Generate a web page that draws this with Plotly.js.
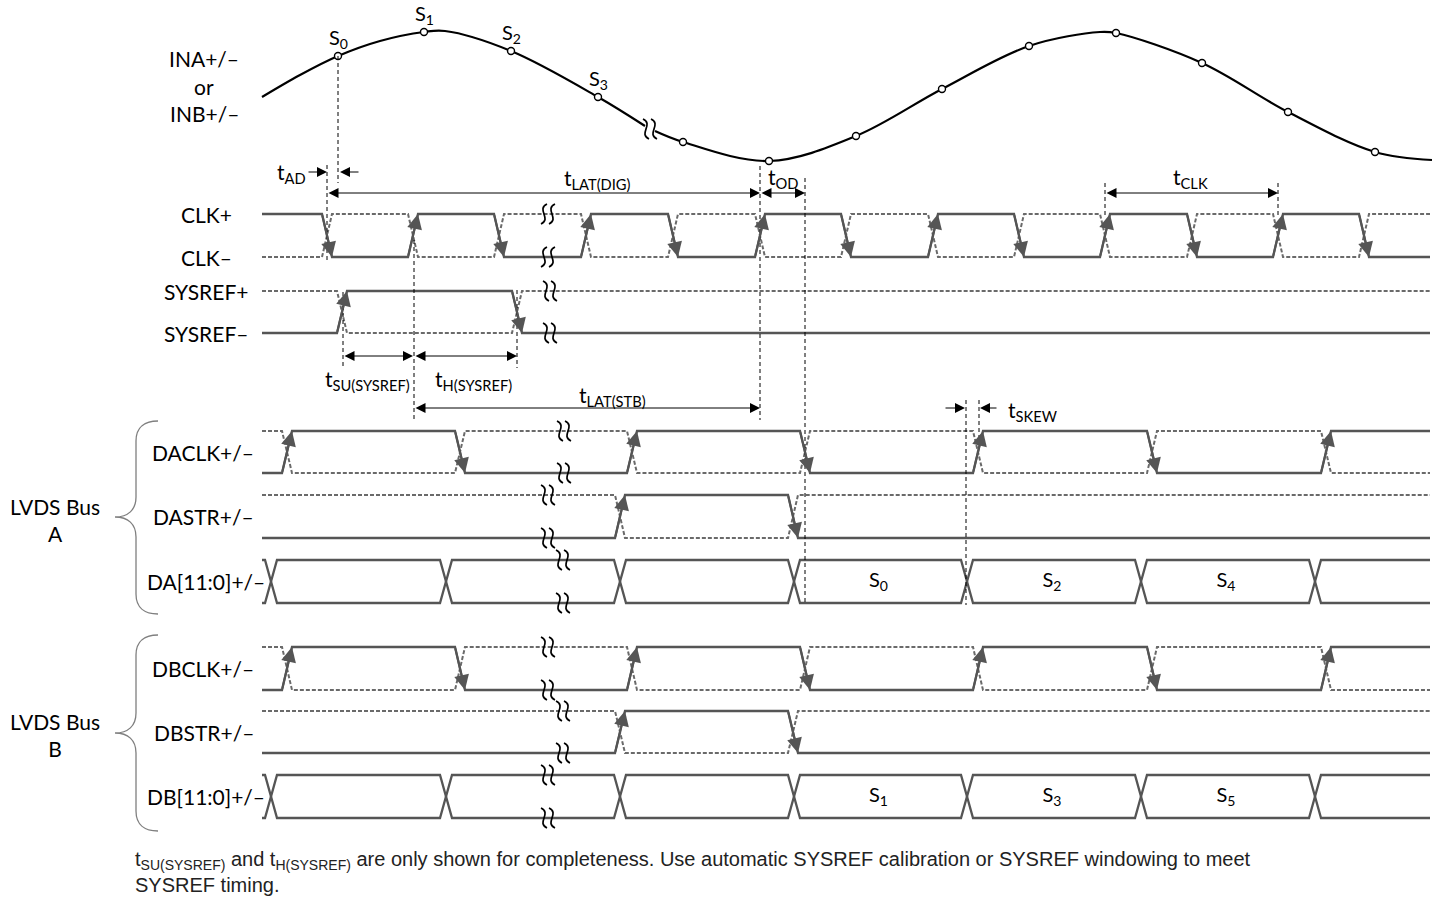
<!DOCTYPE html>
<html><head><meta charset="utf-8">
<script src="https://cdn.plot.ly/plotly-3.0.1.min.js"></script>
<style>html,body{margin:0;padding:0;background:#fff;}#chart{width:1439px;height:906px;}</style>
</head><body><div id="chart"></div>
<script>
// ---------------- data (time axis in drawing units) ----------------
const inputLeftX  = [262, 300, 338, 380, 424, 445, 511, 598, 645];
const inputLeftY  = [97, 75, 56, 41, 32, 31, 51, 97, 126];
const inputRightX = [655, 683, 769, 856, 942, 1029, 1100, 1116, 1202, 1288, 1375, 1432];
const inputRightY = [131, 142, 161, 136, 89, 46, 32, 33, 63, 112, 152, 160];
const sampleX = [338, 424, 511, 598, 683, 769, 856, 942, 1029, 1116, 1202, 1288, 1375];
const sampleY = [56, 32, 51, 97, 142, 161, 136, 89, 46, 33, 63, 112, 152];
const sampleLabels = ['S<sub>0</sub>', 'S<sub>1</sub>', 'S<sub>2</sub>', 'S<sub>3</sub>'];

const clkEdges    = [327, 413, 499, 586, 673, 760, 846, 933, 1019, 1105, 1192, 1278, 1364];
const sysrefEdges = [342, 517];
const daclkEdges  = [287, 460, 632, 805, 978, 1152, 1326];
const dastrEdges  = [620, 793];
const daCross     = [271, 446, 620, 794, 967, 1141, 1315];
const daWords     = ['', '', '', 'S<sub>0</sub>', 'S<sub>2</sub>', 'S<sub>4</sub>', ''];
const dbclkEdges  = [287, 460, 632, 805, 978, 1152, 1326];
const dbstrEdges  = [620, 793];
const dbCross     = [271, 446, 620, 794, 967, 1141, 1315];
const dbWords     = ['', '', '', 'S<sub>1</sub>', 'S<sub>3</sub>', 'S<sub>5</sub>', ''];

const signalNames = ['CLK+', 'CLK–', 'SYSREF+', 'SYSREF–', 'DACLK+/–', 'DASTR+/–', 'DA[11:0]+/–', 'DBCLK+/–', 'DBSTR+/–', 'DB[11:0]+/–'];
const inputNames  = ['INA+/–', 'or', 'INB+/–'];
const busNames    = ['LVDS Bus<br>A', 'LVDS Bus<br>B'];
const noteLines   = [
  't<sub>SU(SYSREF)</sub> and t<sub>H(SYSREF)</sub> are only shown for completeness. Use automatic SYSREF calibration or SYSREF windowing to meet',
  'SYSREF timing.'
];

// ---------------- layout config ----------------
const X0 = 262, X1 = 1430;
const ROW = {
  clk:   {hi: 214, lo: 257, brk: 548, flip: true},
  sys:   {hi: 291, lo: 333, brk: 550},
  daclk: {hi: 431, lo: 473, brk: 564},
  dastr: {hi: 495, lo: 538, brk: 548},
  da:    {hi: 560, lo: 603, brk: 563},
  dbclk: {hi: 647, lo: 690, brk: 548},
  dbstr: {hi: 711, lo: 753, brk: 563},
  db:    {hi: 775, lo: 818, brk: 548}
};
const SOLID = '#555555', DASHC = '#6a6a6a', FONT = 'Lato, "Open Sans", sans-serif';
const traces = [], shapes = [], annotations = [];

function wave(edges, startHigh, r, hw) {
  const xs = [X0], ys = [startHigh ? r.hi : r.lo];
  let high = startHigh;
  for (const e of edges) {
    xs.push(e - hw); ys.push(high ? r.hi : r.lo);
    high = !high;
    xs.push(e + hw); ys.push(high ? r.hi : r.lo);
  }
  xs.push(X1); ys.push(high ? r.hi : r.lo);
  return {xs, ys};
}
function addDiff(edges, startHigh, r, hw) {
  const c = wave(edges, !startHigh, r, hw);
  traces.push({x: c.xs, y: c.ys, mode: 'lines', line: {color: DASHC, width: 2, dash: '4px,2px'}, hoverinfo: 'skip'});
  const s = wave(edges, startHigh, r, hw);
  traces.push({x: s.xs, y: s.ys, mode: 'lines', line: {color: SOLID, width: 2.3}, hoverinfo: 'skip'});
  let high = startHigh;
  for (const e of edges) {
    const y0 = high ? r.hi : r.lo; high = !high; const y1 = high ? r.hi : r.lo;
    annotations.push({x: e + hw, y: y1, ax: e - hw, ay: y0, axref: 'x', ayref: 'y', xref: 'x', yref: 'y',
      showarrow: true, arrowhead: 2, arrowsize: 1.5, arrowwidth: 2, arrowcolor: SOLID, text: '', standoff: 0});
  }
}
function addBus(cross, r, words, hw) {
  for (const startTop of [true, false]) {
    const xs = [X0], ys = [startTop ? r.hi : r.lo];
    let top = startTop;
    for (const c of cross) {
      xs.push(c - hw); ys.push(top ? r.hi : r.lo);
      top = !top;
      xs.push(c + hw); ys.push(top ? r.hi : r.lo);
    }
    xs.push(X1); ys.push(top ? r.hi : r.lo);
    traces.push({x: xs, y: ys, mode: 'lines', line: {color: SOLID, width: 2.3}, hoverinfo: 'skip'});
  }
  const lx = [], ly = [], lt = [];
  words.forEach((w, i) => {
    if (!w) return;
    const xa = cross[i], xb = i + 1 < cross.length ? cross[i + 1] : X1;
    lx.push((xa + xb) / 2 - 2); ly.push((r.hi + r.lo) / 2); lt.push(w);
  });
  traces.push({x: lx, y: ly, text: lt, mode: 'text', textfont: {family: FONT, size: 20, color: '#000'}, hoverinfo: 'skip'});
}
function breakMark(cx, cy, flip) {
  for (const dx of [-4, 4]) {
    const x = cx + dx;
    const p = flip
      ? `M ${x + 3},${cy - 10} C ${x - 8},${cy - 5} ${x + 8},${cy + 5} ${x - 3},${cy + 10}`
      : `M ${x - 3},${cy - 10} C ${x + 8},${cy - 5} ${x - 8},${cy + 5} ${x + 3},${cy + 10}`;
    shapes.push({type: 'path', path: p, xref: 'x', yref: 'y', line: {color: '#000', width: 1.7}, layer: 'above'});
  }
}
function vdash(x, y0, y1) {
  shapes.push({type: 'line', x0: x, x1: x, y0: y0, y1: y1, xref: 'x', yref: 'y', line: {color: '#000', width: 1, dash: '4px,3px'}});
}
function dim(xa, xb, y, both) {
  annotations.push({x: xb, y: y, ax: xa, ay: y, axref: 'x', ayref: 'y', xref: 'x', yref: 'y', text: '', showarrow: true,
    arrowhead: 2, startarrowhead: 2, arrowside: both ? 'end+start' : 'end', arrowsize: 2, startarrowsize: 2,
    arrowwidth: 1, arrowcolor: '#000', standoff: 0, startstandoff: 0});
}
function label(x, y, t, size, anchor) {
  annotations.push({x: x, y: y, xref: 'x', yref: 'y', text: t, showarrow: false, xanchor: anchor || 'center', yanchor: 'middle',
    font: {family: FONT, size: size || 21, color: '#000'}});
}

// ---------------- input signal ----------------
traces.push({x: inputLeftX, y: inputLeftY, mode: 'lines', line: {color: '#000', width: 2.2, shape: 'spline'}, hoverinfo: 'skip'});
traces.push({x: inputRightX, y: inputRightY, mode: 'lines', line: {color: '#000', width: 2.2, shape: 'spline'}, hoverinfo: 'skip'});
breakMark(650, 129, false);
traces.push({x: sampleX, y: sampleY, mode: 'markers', marker: {symbol: 'circle', size: 7, color: '#fff', line: {color: '#000', width: 1.4}}, hoverinfo: 'skip'});
sampleLabels.forEach((t, i) => label(sampleX[i], sampleY[i] - 18, t, 20));

// ---------------- digital signals ----------------
addDiff(clkEdges, true, ROW.clk, 5);
addDiff(sysrefEdges, false, ROW.sys, 5);
addDiff(daclkEdges, false, ROW.daclk, 5);
addDiff(dastrEdges, false, ROW.dastr, 5);
addBus(daCross, ROW.da, daWords, 6);
addDiff(dbclkEdges, false, ROW.dbclk, 5);
addDiff(dbstrEdges, false, ROW.dbstr, 5);
addBus(dbCross, ROW.db, dbWords, 6);

for (const k of Object.keys(ROW)) {
  const r = ROW[k];
  breakMark(r.brk, r.hi, !!r.flip);
  breakMark(r.brk, r.lo, !!r.flip);
}

// ---------------- timing references ----------------
const tCLKa = clkEdges[0], tS0 = sampleX[0], tOut = clkEdges[5], tODe = daclkEdges[3];
vdash(tS0, sampleY[0], 183);
vdash(tCLKa, 165, 263);
vdash(tOut, 166, 420);
vdash(tODe, 178, 605);
vdash(clkEdges[9], 183, 216);
vdash(clkEdges[11], 183, 216);
vdash(clkEdges[1] + 1, 240, 420);
vdash(sysrefEdges[0] + 1, 292, 368);
vdash(sysrefEdges[1], 290, 368);
vdash(daCross[4] - 1, 400, 605);
vdash(daclkEdges[4] + 1, 400, 440);

dim(307, tCLKa, 172, false);
dim(360, tS0 + 2, 172, false);
dim(tCLKa, tOut, 193, true);
dim(tOut, tODe, 193, true);
dim(clkEdges[9], clkEdges[11], 193, true);
dim(sysrefEdges[0] + 1, clkEdges[1], 356, true);
dim(clkEdges[1] + 1, sysrefEdges[1], 356, true);
dim(clkEdges[1] + 1, tOut, 408, true);
dim(944, daCross[4] - 2, 408, false);
dim(998, daclkEdges[4] + 2, 408, false);

label(291, 173, 't<sub>AD</sub>');
label(597, 179, 't<sub>LAT(DIG)</sub>');
label(783, 178, 't<sub>OD</sub>');
label(1190, 178, 't<sub>CLK</sub>');
label(367, 380, 't<sub>SU(SYSREF)</sub>');
label(473, 380, 't<sub>H(SYSREF)</sub>');
label(612, 396, 't<sub>LAT(STB)</sub>');
label(1032, 411, 't<sub>SKEW</sub>');

// ---------------- labels ----------------
const inputY = [58, 86, 113];
inputNames.forEach((t, i) => label(204, inputY[i], t));
const sigY = [ROW.clk.hi, ROW.clk.lo, ROW.sys.hi, ROW.sys.lo,
  (ROW.daclk.hi + ROW.daclk.lo) / 2, (ROW.dastr.hi + ROW.dastr.lo) / 2, (ROW.da.hi + ROW.da.lo) / 2,
  (ROW.dbclk.hi + ROW.dbclk.lo) / 2, (ROW.dbstr.hi + ROW.dbstr.lo) / 2, (ROW.db.hi + ROW.db.lo) / 2];
const sigRight = [0, 0, 0, 0, 256, 256, 267, 256, 256, 267];
signalNames.forEach((t, i) => label(i >= 4 ? sigRight[i] : 206, sigY[i], t, 21, i >= 4 ? 'right' : 'center'));
label(55, 520, busNames[0]);
label(55, 735, busNames[1]);

function brace(top, bot, mid) {
  const p = `M 158,${top} C 145,${top} 136,${top + 6} 136,${top + 20} L 136,${mid - 20} C 136,${mid - 7} 128,${mid} 115,${mid} ` +
            `C 128,${mid} 136,${mid + 7} 136,${mid + 20} L 136,${bot - 20} C 136,${bot - 6} 145,${bot} 158,${bot}`;
  shapes.push({type: 'path', path: p, xref: 'x', yref: 'y', line: {color: '#7f7f7f', width: 1.3}});
}
brace(421, 614, 517);
brace(635, 831, 733);

const noteY = [860, 885];
noteLines.forEach((t, i) => annotations.push({x: 133, y: noteY[i], xref: 'x', yref: 'y', xanchor: 'left', yanchor: 'middle',
  showarrow: false, align: 'left', text: t, font: {family: '"Liberation Sans", Arial, sans-serif', size: 20, color: '#222'}}));

Plotly.newPlot('chart', traces, {
  width: 1439, height: 906, margin: {l: 0, r: 0, t: 0, b: 0},
  paper_bgcolor: '#fff', plot_bgcolor: '#fff', showlegend: false,
  xaxis: {range: [0, 1439], visible: false, fixedrange: true},
  yaxis: {range: [906, 0], visible: false, fixedrange: true},
  shapes: shapes, annotations: annotations
}, {staticPlot: true, displayModeBar: false});
</script></body></html>
